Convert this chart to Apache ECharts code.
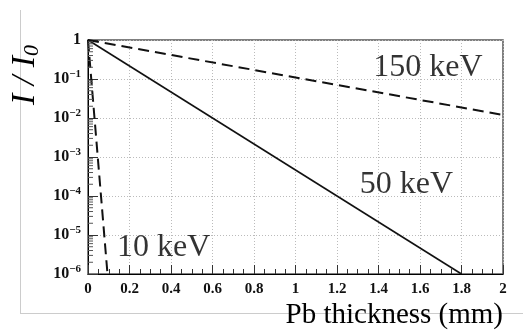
<!DOCTYPE html>
<html><head><meta charset="utf-8">
<script src="https://cdn.jsdelivr.net/npm/echarts@6/dist/echarts.min.js"></script>
<style>html,body{margin:0;padding:0;background:#fff}#c{width:523px;height:330px}</style>
</head><body><div id="c"></div>
<script>
const xTicks = [0,0.2,0.4,0.6,0.8,1,1.2,1.4,1.6,1.8,2];
const yTicks = [1e-6,1e-5,1e-4,1e-3,1e-2,1e-1,1];
const kev150 = [[0,1],[2,0.012]];
const kev50 = [[0,1],[1.8,1e-6]];
const kev10 = [[0,1],[0.094,1e-6]];
const seriesLabels = ['150 keV','50 keV','10 keV'];
const labelPos = [[1.375,0.2],[1.31,0.0002],[0.14,4.7e-6]];
const minorY = [];
for (let e=-6;e<0;e++) for (let m=2;m<=9;m++) minorY.push(m*Math.pow(10,e));

const serif = '"Liberation Serif","DejaVu Serif",serif';
const chart = echarts.init(document.getElementById('c'));
function yFmt(v){
  const e = Math.round(Math.log10(v));
  if (e===0) return '1';
  return '10{sup|−'+(-e)+'}';
}
chart.setOption({
  animation:false,
  grid:{left:88,right:20,top:40,bottom:56,show:true,borderColor:'#555',borderWidth:1.5},
  xAxis:{type:'value',min:0,max:2,interval:0.2,
    axisLine:{show:true,lineStyle:{color:'#000',width:1}},
    axisTick:{inside:true,length:9,lineStyle:{color:'#333'}},
    minorTick:{show:true,splitNumber:4,length:5,lineStyle:{color:'#333'}},
    splitLine:{show:true,lineStyle:{color:'#bbb',type:[1,2]}},
    axisLabel:{fontFamily:serif,fontWeight:'bold',fontSize:15,color:'#111',margin:8,
      formatter:v=>String(+v.toFixed(1))}
  },
  yAxis:{type:'log',logBase:10,min:1e-6,max:1,
    axisLine:{show:true,lineStyle:{color:'#000',width:1}},
    axisTick:{inside:true,length:10,lineStyle:{color:'#333'}},
    minorTick:{show:false},
    splitLine:{show:true,lineStyle:{color:'#bbb',type:[1,2]}},
    axisLabel:{fontFamily:serif,fontWeight:'bold',fontSize:16,color:'#111',margin:7,
      formatter:yFmt,
      rich:{sup:{fontFamily:serif,fontWeight:'bold',fontSize:11,color:'#111',padding:[0,0,10,0]}}}
  },
  series:[
    {type:'line',data:kev150,symbol:'none',lineStyle:{color:'#111',width:2,type:[11,6]},z:3},
    {type:'line',data:kev50,symbol:'none',lineStyle:{color:'#111',width:1.6},z:3},
    {type:'line',data:kev10,symbol:'none',lineStyle:{color:'#111',width:2,type:[11,6]},z:3},
    {type:'custom',data:minorY.map(v=>[0,v]),z:4,silent:true,
      renderItem:(p,api)=>{const pt=api.coord([0,api.value(1)]);
        return {type:'line',shape:{x1:pt[0],y1:pt[1],x2:pt[0]+5,y2:pt[1]},style:{stroke:'#555',lineWidth:1}};}},
    {type:'scatter',symbolSize:0,z:5,silent:true,
      data:seriesLabels.map((s,i)=>({value:labelPos[i],name:s})),
      label:{show:true,position:'right',distance:0,formatter:p=>p.name,fontFamily:serif,fontSize:32,color:'#000'}}
  ],
  graphic:[
    {type:'line',shape:{x1:20.5,y1:10,x2:20.5,y2:313.5},style:{stroke:'#ccc',lineWidth:1}},
    {type:'line',shape:{x1:20,y1:313.5,x2:523,y2:313.5},style:{stroke:'#ccc',lineWidth:1}},
    {type:'text',right:20,top:301,style:{text:'Pb thickness (mm)',fontFamily:serif,fontSize:29,fill:'#000'}},
    {type:'text',x:25,y:75,rotation:Math.PI/2,style:{text:'I / I{s|0}',align:'center',verticalAlign:'middle',fontFamily:serif,fontSize:34,fontStyle:'italic',fill:'#000',
      rich:{s:{fontFamily:serif,fontSize:22,fontStyle:'italic',fill:'#000',padding:[14,0,0,0]}}}}
  ]
});
</script></body></html>
